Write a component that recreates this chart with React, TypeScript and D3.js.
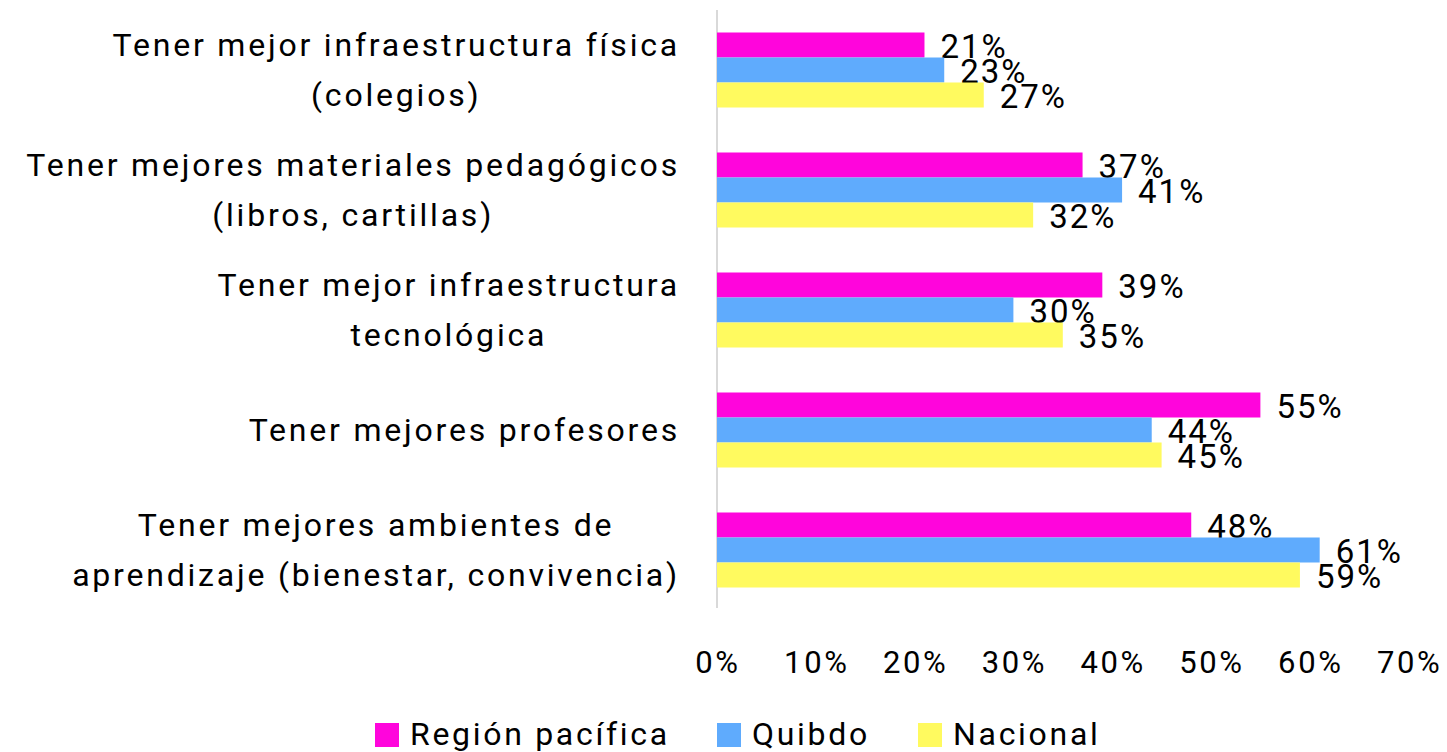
import { useEffect, useRef } from "react";
import * as d3 from "d3";

const categories = [
  ["Tener mejor infraestructura física", "(colegios)"],
  ["Tener mejores materiales pedagógicos", "(libros, cartillas)"],
  ["Tener mejor infraestructura", "tecnológica"],
  ["Tener mejores profesores"],
  ["Tener mejores ambientes de", "aprendizaje (bienestar, convivencia)"],
];
const seriesNames = ["Región pacífica", "Quibdo", "Nacional"];
const seriesColors = ["#FF05DC", "#5FABFD", "#FFFA5F"];
const regionPacifica = [21, 37, 39, 55, 48];
const quibdo = [23, 41, 30, 44, 61];
const nacional = [27, 32, 35, 45, 59];
const ticks = [0, 10, 20, 30, 40, 50, 60, 70];

const FONT = "Roboto, 'Liberation Sans', sans-serif";

export default function App() {
  const svgRef = useRef<SVGSVGElement>(null);

  useEffect(() => {
    if (!svgRef.current) return;
    const svg = d3.select(svgRef.current);
    svg.selectAll("*").remove();

    const series = [regionPacifica, quibdo, nacional];
    const x = d3.scaleLinear().domain([0, 70]).range([717, 1408.6]);
    const y = d3.scaleBand<number>().domain(d3.range(categories.length)).range([10, 610]);
    const inner = d3.scaleBand<number>().domain([0, 1, 2]).range([0, 75]);
    const barOffset = (y.bandwidth() - 75) / 2;

    // axis line
    svg.append("line")
      .attr("x1", x(0)).attr("x2", x(0))
      .attr("y1", 10).attr("y2", 608)
      .style("stroke", "#d9d9d9").style("stroke-width", 2);

    const groups = svg.selectAll(".grp")
      .data(categories)
      .enter()
      .append("g")
      .attr("transform", (_d, i) => `translate(0,${y(i)! + barOffset})`);

    groups.each(function (_d, ci) {
      const g = d3.select(this);
      series.forEach((vals, si) => {
        g.append("rect")
          .attr("x", x(0))
          .attr("y", inner(si)!)
          .attr("width", x(vals[ci]) - x(0))
          .attr("height", inner.bandwidth())
          .style("fill", seriesColors[si]);
        g.append("text")
          .attr("x", x(vals[ci]) + 16)
          .attr("y", inner(si)! + inner.bandwidth())
          .style("font-family", FONT)
          .style("font-size", "33px")
          .style("letter-spacing", "2px")
          .style("fill", "#000")
          .text(vals[ci] + "%");
      });
    });

    // category labels
    categories.forEach((lines, ci) => {
      const cy = y(ci)! + y.bandwidth() / 2;
      const t = svg.append("text")
        .style("font-family", FONT)
        .style("font-size", "32px")
        .style("letter-spacing", "2.8px")
        .style("fill", "#000")
        .attr("text-anchor", "middle");
      const spans = lines.map((ln, li) =>
        t.append("tspan")
          .attr("y", cy + 11 + (li - (lines.length - 1) / 2) * 50)
          .text(ln)
      );
      const widths = spans.map((s) => (s.node() as SVGTSpanElement).getComputedTextLength());
      const cx = 680 - d3.max(widths)! / 2;
      spans.forEach((s) => s.attr("x", cx));
    });

    // x tick labels
    svg.selectAll(".tick")
      .data(ticks)
      .enter()
      .append("text")
      .attr("x", (d) => x(d) + 1)
      .attr("y", 673)
      .attr("text-anchor", "middle")
      .style("font-family", FONT)
      .style("font-size", "31px")
      .style("letter-spacing", "2.6px")
      .style("fill", "#000")
      .text((d) => d + "%");

    // legend
    const legendX = [375, 717, 918];
    seriesNames.forEach((name, i) => {
      svg.append("rect")
        .attr("x", legendX[i]).attr("y", 723)
        .attr("width", 24).attr("height", 24)
        .style("fill", seriesColors[i]);
      svg.append("text")
        .attr("x", legendX[i] + 35).attr("y", 745)
        .style("font-family", FONT)
        .style("font-size", "32px")
        .style("letter-spacing", "2.7px")
        .style("fill", "#000")
        .text(name);
    });
  }, []);

  return (
    <svg
      ref={svgRef}
      width={1447}
      height={752}
      style={{ position: "absolute", left: 0, top: 0, background: "#fff" }}
    />
  );
}
